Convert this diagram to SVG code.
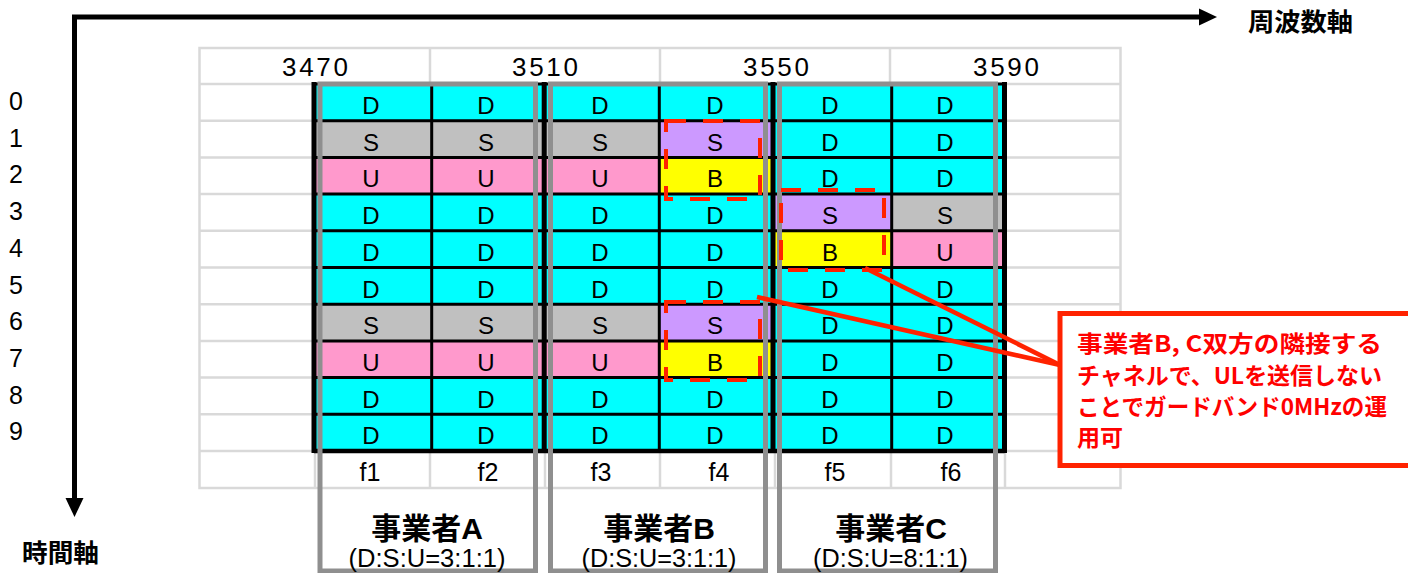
<svg xmlns="http://www.w3.org/2000/svg" width="1408" height="573" viewBox="0 0 1408 573">
<style>
.grid{stroke:#d9d9d9;stroke-width:2.5;fill:none}
.blk{stroke:#000;fill:none}
.c{font-family:"Liberation Sans",Arial,sans-serif;font-size:24px;fill:#000;text-anchor:middle}
.f{font-family:"Liberation Sans",Arial,sans-serif;font-size:25px;fill:#000;text-anchor:middle}
.lbl{font-family:"Liberation Sans",Arial,sans-serif;font-size:25px;fill:#000}
.hdr{font-family:"Liberation Sans",Arial,sans-serif;font-size:26px;fill:#000;text-anchor:middle}
.op{fill:none;stroke:#8f8f8f;stroke-width:5}
.opname{font-family:"Liberation Sans","Noto Sans CJK JP",sans-serif;font-size:30px;font-weight:bold;fill:#000;text-anchor:middle}
.ratio{font-family:"Liberation Sans","Noto Sans CJK JP",sans-serif;font-size:26px;fill:#000;text-anchor:middle}
.ax{font-family:"Noto Sans CJK JP",sans-serif;font-size:25px;font-weight:bold;fill:#000}
.dash{fill:none;stroke:#ff2200;stroke-width:4;stroke-dasharray:20 17}
.conn{stroke:#ff2200;stroke-width:4.5;fill:none}
.note{font-family:"Noto Sans CJK JP",sans-serif;font-size:23px;font-weight:bold;fill:#ff0000}
.D{fill:#00ffff}.S{fill:#c0c0c0}.P{fill:#cc99ff}.U{fill:#ff99cc}.B{fill:#ffff00}
</style>
<rect width="1408" height="573" fill="#fff"/>

<g id="axes">
<path d="M74.5,500 V17 H1200" fill="none" stroke="#000" stroke-width="5"/>
<polygon points="1199,8.5 1217,17 1199,25.5" fill="#000"/>
<polygon points="65.5,498 83.5,498 74.5,517" fill="#000"/>
<text class="ax" x="1248" y="31" textLength="105" lengthAdjust="spacingAndGlyphs">周波数軸</text>
<text class="ax" x="22" y="562" textLength="77" lengthAdjust="spacingAndGlyphs">時間軸</text>
</g>

<g id="grid">
<rect class="grid" x="199.5" y="48" width="921" height="440"/>
<path class="grid" d="M199.5,84H1120.5M199.5,120.7H1120.5M199.5,157.4H1120.5M199.5,194.1H1120.5M199.5,230.8H1120.5M199.5,267.5H1120.5M199.5,304.2H1120.5M199.5,340.9H1120.5M199.5,377.6H1120.5M199.5,414.3H1120.5M199.5,451H1120.5"/>
<path class="grid" d="M430,48V84M660,48V84M890,48V84M315,84V488M430,84V488M545,84V488M660,84V488M775,84V488M891,84V488M1005,84V488"/>
<text class="hdr" x="315" y="76" textLength="66" lengthAdjust="spacing">3470</text>
<text class="hdr" x="545" y="76" textLength="66" lengthAdjust="spacing">3510</text>
<text class="hdr" x="776" y="76" textLength="66" lengthAdjust="spacing">3550</text>
<text class="hdr" x="1006" y="76" textLength="66" lengthAdjust="spacing">3590</text>
<g class="lbl">
<text x="9" y="110">0</text><text x="9" y="146.7">1</text><text x="9" y="183.4">2</text><text x="9" y="220.1">3</text><text x="9" y="256.8">4</text>
<text x="9" y="293.5">5</text><text x="9" y="330.2">6</text><text x="9" y="366.9">7</text><text x="9" y="403.6">8</text><text x="9" y="440.3">9</text>
</g>
<g class="f">
<text x="370" y="481">f1</text><text x="488" y="481">f2</text><text x="601" y="481">f3</text>
<text x="719" y="481">f4</text><text x="835" y="481">f5</text><text x="951" y="481">f6</text>
</g>
</g>

<g id="cells">
<rect class="D" x="314" y="84" width="690.5" height="367"/>
<rect class="S" x="314" y="120.7" width="345.3" height="36.7"/>
<rect class="P" x="659.3" y="120.7" width="113.7" height="36.7"/>
<rect class="U" x="314" y="157.4" width="345.3" height="36.7"/>
<rect class="B" x="659.3" y="157.4" width="113.7" height="36.7"/>
<rect class="P" x="773" y="194.1" width="118.7" height="36.7"/>
<rect class="S" x="891.7" y="194.1" width="112.8" height="36.7"/>
<rect class="B" x="773" y="230.8" width="118.7" height="36.7"/>
<rect class="U" x="891.7" y="230.8" width="112.8" height="36.7"/>
<rect class="S" x="314" y="304.2" width="345.3" height="36.7"/>
<rect class="P" x="659.3" y="304.2" width="113.7" height="36.7"/>
<rect class="U" x="314" y="340.9" width="345.3" height="36.7"/>
<rect class="B" x="659.3" y="340.9" width="113.7" height="36.7"/>
<path class="blk" stroke-width="3" d="M314,84H1004.5M314,120.7H1004.5M314,157.4H1004.5M314,194.1H1004.5M314,230.8H1004.5M314,267.5H1004.5M314,304.2H1004.5M314,340.9H1004.5M314,377.6H1004.5M314,414.3H1004.5M431.7,84V451M659.3,84V451M891.7,84V451"/>
<path class="blk" stroke-width="4.5" d="M314,451H1004.5"/>
<path class="blk" stroke-width="5" d="M314,82V453M544.2,82V453M773,82V453M1004.5,82V453"/>
<g class="c">
<text x="371" y="114">D</text><text x="486" y="114">D</text><text x="600" y="114">D</text><text x="715" y="114">D</text><text x="830" y="114">D</text><text x="945" y="114">D</text>
<text x="371" y="150.7">S</text><text x="486" y="150.7">S</text><text x="600" y="150.7">S</text><text x="715" y="150.7">S</text><text x="830" y="150.7">D</text><text x="945" y="150.7">D</text>
<text x="371" y="187.4">U</text><text x="486" y="187.4">U</text><text x="600" y="187.4">U</text><text x="715" y="187.4">B</text><text x="830" y="187.4">D</text><text x="945" y="187.4">D</text>
<text x="371" y="224.1">D</text><text x="486" y="224.1">D</text><text x="600" y="224.1">D</text><text x="715" y="224.1">D</text><text x="830" y="224.1">S</text><text x="945" y="224.1">S</text>
<text x="371" y="260.8">D</text><text x="486" y="260.8">D</text><text x="600" y="260.8">D</text><text x="715" y="260.8">D</text><text x="830" y="260.8">B</text><text x="945" y="260.8">U</text>
<text x="371" y="297.5">D</text><text x="486" y="297.5">D</text><text x="600" y="297.5">D</text><text x="715" y="297.5">D</text><text x="830" y="297.5">D</text><text x="945" y="297.5">D</text>
<text x="371" y="334.2">S</text><text x="486" y="334.2">S</text><text x="600" y="334.2">S</text><text x="715" y="334.2">S</text><text x="830" y="334.2">D</text><text x="945" y="334.2">D</text>
<text x="371" y="370.9">U</text><text x="486" y="370.9">U</text><text x="600" y="370.9">U</text><text x="715" y="370.9">B</text><text x="830" y="370.9">D</text><text x="945" y="370.9">D</text>
<text x="371" y="407.6">D</text><text x="486" y="407.6">D</text><text x="600" y="407.6">D</text><text x="715" y="407.6">D</text><text x="830" y="407.6">D</text><text x="945" y="407.6">D</text>
<text x="371" y="444.3">D</text><text x="486" y="444.3">D</text><text x="600" y="444.3">D</text><text x="715" y="444.3">D</text><text x="830" y="444.3">D</text><text x="945" y="444.3">D</text>
</g>
</g>

<g id="operator-A">
<rect class="op" x="320" y="84" width="215.5" height="487"/>
<text class="opname" x="427" y="539">事業者A</text>
<text class="ratio" x="427" y="567" textLength="157" lengthAdjust="spacingAndGlyphs">(D:S:U=3:1:1)</text>
</g>
<g id="operator-B">
<rect class="op" x="550.5" y="84" width="215" height="487"/>
<text class="opname" x="659" y="539">事業者B</text>
<text class="ratio" x="659" y="567" textLength="155" lengthAdjust="spacingAndGlyphs">(D:S:U=3:1:1)</text>
</g>
<g id="operator-C">
<rect class="op" x="779.5" y="84" width="216" height="487"/>
<text class="opname" x="891" y="539">事業者C</text>
<text class="ratio" x="890.5" y="567" textLength="155" lengthAdjust="spacingAndGlyphs">(D:S:U=8:1:1)</text>
</g>

<g id="highlights">
<rect class="dash" x="666" y="121" width="94" height="78"/>
<rect class="dash" x="781" y="190" width="103" height="80"/>
<rect class="dash" x="666" y="302" width="94" height="78"/>
</g>

<g id="connectors">
<line class="conn" x1="865" y1="268" x2="1060" y2="365"/>
<line class="conn" x1="757" y1="297" x2="1060" y2="365"/>
</g>

<g id="callout">
<rect x="1060" y="313.5" width="400" height="152" fill="#fff" stroke="#ff2200" stroke-width="5"/>
<text class="note" x="1077" y="352" textLength="305" lengthAdjust="spacingAndGlyphs">事業者B, C双方の隣接する</text>
<text class="note" x="1077" y="384" textLength="305" lengthAdjust="spacingAndGlyphs">チャネルで、ULを送信しない</text>
<text class="note" x="1077" y="415" textLength="310" lengthAdjust="spacingAndGlyphs">ことでガードバンド0MHzの運</text>
<text class="note" x="1077" y="446">用可</text>
</g>
</svg>
